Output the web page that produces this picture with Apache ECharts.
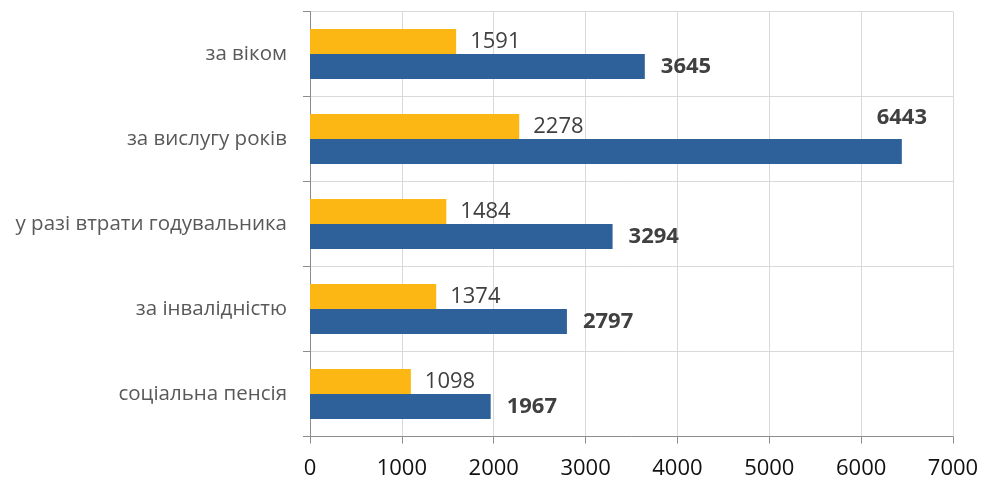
<!DOCTYPE html>
<html><head><meta charset="utf-8">
<script src="https://cdn.jsdelivr.net/npm/echarts@6/dist/echarts.min.js"></script>
<style>html,body{margin:0;padding:0;background:#fff}#c{width:989px;height:482px}</style>
</head><body><div id="c"></div>
<script>
const categories = ['за віком', 'за вислугу років', 'у разі втрати годувальника', 'за інвалідністю', 'соціальна пенсія'];
const seriesYellow = [1591, 2278, 1484, 1374, 1098];
const seriesBlue = [3645, 6443, 3294, 2797, 1967];
const xTicks = [0, 1000, 2000, 3000, 4000, 5000, 6000, 7000];

const font = '"Open Sans", Lato, sans-serif';
const chart = echarts.init(document.getElementById('c'));
chart.setOption({
  animation: false,
  grid: { left: 310, right: 36, top: 11.5, bottom: 45.5 },
  xAxis: {
    type: 'value', min: xTicks[0], max: xTicks[xTicks.length - 1], interval: 1000,
    axisLine: { show: true, lineStyle: { color: '#8c8c8c', width: 1 } },
    axisTick: { show: true, length: 7, lineStyle: { color: '#8c8c8c' } },
    axisLabel: { color: '#111', fontSize: 22, fontFamily: font, margin: 21, formatter: v => String(v) },
    splitLine: { show: true, lineStyle: { color: '#d9d9d9', width: 1 } }
  },
  yAxis: {
    type: 'category', data: categories, inverse: true,
    axisLine: { show: true, lineStyle: { color: '#8c8c8c', width: 1 } },
    axisTick: { show: true, length: 7, lineStyle: { color: '#8c8c8c' } },
    axisLabel: { color: '#595959', fontSize: 20.5, fontFamily: font, margin: 23 },
    splitLine: { show: true, lineStyle: { color: '#d9d9d9', width: 1 } }
  },
  series: [
    {
      type: 'bar', data: seriesYellow, barGap: '0%', barCategoryGap: '41%',
      itemStyle: { color: '#FDB714' },
      label: { show: true, position: 'right', distance: 14, color: '#404040', fontSize: 22, fontFamily: font }
    },
    {
      type: 'bar',
      data: seriesBlue.map((v, i) => i === 1 ? {
        value: v,
        label: { position: ['100%', -21], align: 'center', verticalAlign: 'middle' }
      } : v),
      itemStyle: { color: '#2E6199' },
      label: { show: true, position: 'right', distance: 16, color: '#404040', fontSize: 22, fontWeight: 'bold', fontFamily: font }
    }
  ]
});
</script></body></html>
